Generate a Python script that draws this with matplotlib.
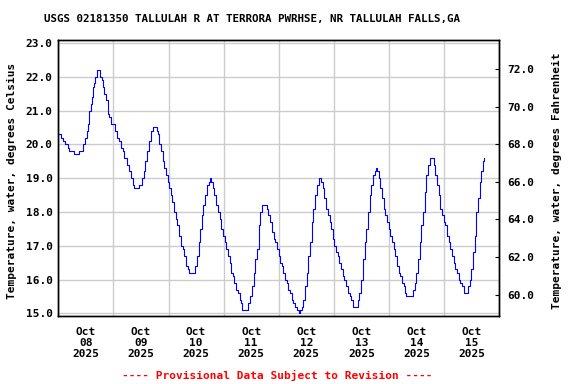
import numpy as np
import pandas as pd
import matplotlib
matplotlib.use("Agg")
import matplotlib.pyplot as plt
import matplotlib.dates as mdates

# hours since 2025-10-08 00:00 and water temperature (deg C)
hrs = [0.0, 1.0, 1.9, 3.1, 4.1, 4.8, 7.0, 9.2, 10.9, 11.8, 12.5, 12.8, 13.2, 13.5,
       14.2, 14.5, 15.0, 15.4, 16.1, 16.9, 17.4, 18.3, 18.9, 19.3, 20.1, 20.8,
       21.5, 22.2, 23.0, 23.7, 24.7, 25.6, 26.6, 27.3, 28.0, 28.8, 29.8, 30.9,
       31.8, 32.7, 33.1, 34.6, 35.3, 36.5, 37.2, 37.9, 38.5, 39.7, 40.4, 41.4,
       42.1, 42.9, 43.2, 43.9, 44.7, 45.4, 46.1, 46.8, 47.6, 48.3, 49.0, 49.7,
       50.5, 51.2, 51.9, 52.6, 53.4, 54.1, 54.8, 55.6, 56.3, 56.9, 58.9, 59.6,
       60.3, 61.1, 61.8, 62.5, 63.2, 64.0, 64.7, 65.4, 65.9, 66.6, 67.3, 68.0,
       68.8, 69.5, 70.2, 70.9, 71.7, 72.4, 73.1, 73.8, 74.6, 75.3, 76.0, 76.7,
       77.5, 78.2, 78.9, 79.5, 80.2, 82.1, 82.8, 83.6, 84.3, 85.0, 85.8, 86.5,
       87.2, 87.6, 88.0, 88.6, 90.2, 90.9, 91.5, 92.2, 93.0, 93.7, 94.4, 95.1,
       95.9, 96.6, 97.3, 98.0, 98.8, 99.5, 100.2, 100.9, 101.7, 102.4, 103.1,
       103.8, 104.6, 105.3, 106.0, 106.7, 107.5, 108.2, 108.9, 109.6, 110.4,
       111.1, 111.8, 112.5, 113.3, 113.7, 114.4, 115.2, 115.9, 116.6, 117.3,
       118.1, 118.8, 119.5, 120.2, 121.0, 121.7, 122.4, 123.2, 123.9, 124.6,
       125.3, 126.1, 126.8, 127.5, 128.2, 129.7, 130.4, 131.1, 132.0, 132.7,
       133.4, 134.1, 134.9, 135.6, 136.3, 137.0, 137.8, 138.2, 138.8, 139.5,
       140.2, 141.0, 141.7, 142.4, 143.1, 143.9, 144.6, 145.3, 146.0, 146.8,
       147.5, 148.2, 148.9, 149.7, 150.4, 151.1, 151.5, 153.7, 154.5, 155.2,
       155.9, 156.6, 157.4, 158.1, 158.8, 159.5, 160.3, 161.0, 161.7, 162.9,
       163.5, 164.2, 164.9, 165.6, 166.4, 167.1, 167.8, 168.5, 169.3, 170.0,
       170.7, 171.4, 172.2, 172.9, 173.6, 174.3, 175.1, 175.8, 176.5, 177.7,
       178.4, 179.1, 179.8, 180.6, 181.3, 182.0, 182.7, 183.5, 184.2, 184.9,
       185.3]
temp_c = [20.3, 20.2, 20.1, 20.0, 19.9, 19.8, 19.7, 19.8, 20.0, 20.2, 20.4, 20.6, 20.7, 21.0,
          21.2, 21.4, 21.7, 21.8, 22.0, 22.2, 22.2, 22.0, 21.9, 21.7, 21.5, 21.3,
          20.9, 20.8, 20.6, 20.6, 20.4, 20.2, 20.1, 19.9, 19.8, 19.6, 19.4, 19.2,
          19.0, 18.8, 18.7, 18.7, 18.8, 19.0, 19.2, 19.5, 19.8, 20.1, 20.4, 20.5,
          20.5, 20.4, 20.3, 20.0, 19.8, 19.5, 19.3, 19.1, 18.9, 18.7, 18.5, 18.3,
          18.0, 17.8, 17.6, 17.3, 17.0, 16.9, 16.7, 16.4, 16.3, 16.2, 16.2, 16.4,
          16.7, 17.1, 17.5, 17.9, 18.2, 18.5, 18.8, 18.9, 19.0, 18.9, 18.7, 18.5,
          18.2, 18.0, 17.8, 17.5, 17.3, 17.1, 16.9, 16.7, 16.5, 16.2, 16.1, 15.9,
          15.7, 15.6, 15.4, 15.3, 15.1, 15.1, 15.3, 15.5, 15.8, 16.2, 16.6, 16.9,
          17.2, 17.6, 18.0, 18.2, 18.2, 18.1, 17.9, 17.7, 17.4, 17.2, 17.1, 16.9,
          16.7, 16.5, 16.4, 16.2, 16.0, 15.9, 15.7, 15.6, 15.4, 15.3, 15.2,
          15.1, 15.0, 15.1, 15.2, 15.4, 15.8, 16.2, 16.7, 17.1, 17.7,
          18.1, 18.5, 18.8, 19.0, 19.0, 18.9, 18.7, 18.4, 18.1, 17.9,
          17.7, 17.5, 17.2, 17.0, 16.8, 16.7, 16.5, 16.3, 16.1, 16.0,
          15.8, 15.6, 15.5, 15.4, 15.2, 15.2, 15.4, 15.6, 16.0, 16.6,
          17.1, 17.5, 18.0, 18.5, 18.8, 19.1, 19.2, 19.3, 19.2, 19.0,
          18.7, 18.4, 18.1, 17.9, 17.7, 17.5, 17.3, 17.1, 16.9, 16.7,
          16.4, 16.2, 16.1, 15.9, 15.8, 15.6, 15.5, 15.5, 15.7, 15.9,
          16.2, 16.6, 17.1, 17.6, 18.0, 18.6, 19.1, 19.4, 19.6, 19.6,
          19.4, 19.1, 18.8, 18.5, 18.1, 17.9, 17.7, 17.6, 17.3, 17.1,
          16.9, 16.7, 16.5, 16.3, 16.2, 16.0, 15.9, 15.8, 15.6, 15.6,
          15.8, 16.0, 16.3, 16.8, 17.3, 18.0, 18.4, 18.9, 19.2, 19.5,
          19.6]

start = pd.Timestamp("2025-10-08")
end = pd.Timestamp("2025-10-16")
times = start + pd.to_timedelta(hrs, unit="h")

title = "USGS 02181350 TALLULAH R AT TERRORA PWRHSE, NR TALLULAH FALLS,GA"
ylab_c = "Temperature, water, degrees Celsius"
ylab_f = "Temperature, water, degrees Fahrenheit"
footer = "---- Provisional Data Subject to Revision ----"

mono = dict(family="DejaVu Sans Mono", weight="bold")

fig = plt.figure(figsize=(5.76, 3.84), dpi=100)
ax = fig.add_axes([0.1012, 0.177, 0.7656, 0.720])

ax.plot(times, temp_c, color="#0000ff", lw=0.8, drawstyle="steps-post")

ylo, yhi = 14.92, 23.10
ax.set_ylim(ylo, yhi)
ax.set_xlim(start, end)

ax.set_yticks(np.arange(15, 24, 1))
ax.set_yticklabels([f"{v:.1f}" for v in range(15, 24)], fontsize=8, **mono)
ax.tick_params(axis="y", length=0, pad=4)

ax.xaxis.set_major_locator(mdates.HourLocator(byhour=12))
ax.xaxis.set_major_formatter(mdates.DateFormatter("%b\n%d\n%Y"))
ax.xaxis.set_minor_locator(mdates.DayLocator())
ax.tick_params(axis="x", which="both", length=0, pad=8)
for lab in ax.get_xticklabels():
    lab.set_fontsize(8)
    lab.set_fontfamily("DejaVu Sans Mono")
    lab.set_fontweight("bold")
    lab.set_linespacing(1.1)

ax.grid(True, which="minor", axis="x", color="#cccccc", lw=1)
ax.grid(True, which="major", axis="y", color="#cccccc", lw=1)
ax.set_axisbelow(True)
for s in ax.spines.values():
    s.set_linewidth(1.0)

ax2 = ax.twinx()
ax2.set_ylim(ylo * 9 / 5 + 32, yhi * 9 / 5 + 32)
ax2.set_yticks(np.arange(60, 73, 2))
ax2.set_yticklabels([f"{v:.1f}" for v in range(60, 73, 2)], fontsize=8, **mono)
ax2.tick_params(axis="y", direction="in", length=3, pad=6)
for s in ax2.spines.values():
    s.set_linewidth(1.0)

fig.text(0.4375, 0.95, title, ha="center", va="center", fontsize=7.8, **mono)
fig.text(12 / 576, 1 - 181 / 384, ylab_c, rotation=90, ha="center", va="center", fontsize=8, **mono)
fig.text(557 / 576, 1 - 181 / 384, ylab_f, rotation=90, ha="center", va="center", fontsize=8, **mono)
fig.text(277 / 576, 1 - 375 / 384, footer, ha="center", va="center", color="red", fontsize=8, **mono)

fig.savefig("out.png", dpi=100)
